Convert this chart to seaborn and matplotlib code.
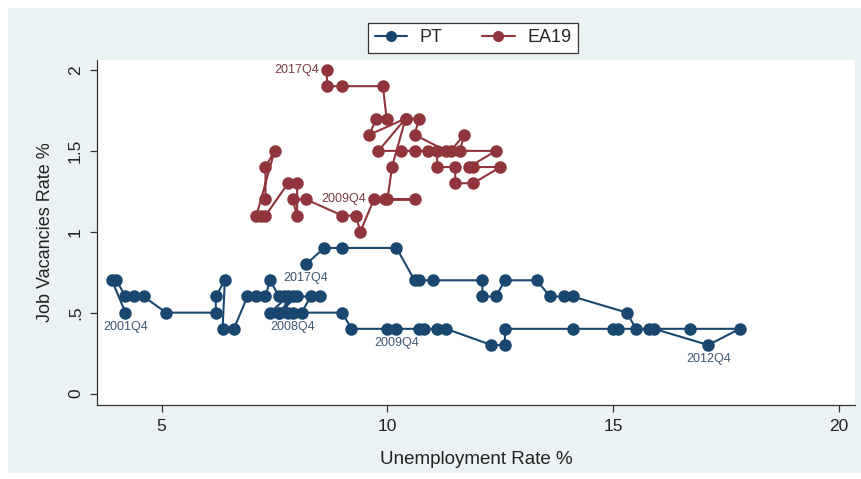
import matplotlib
matplotlib.use("Agg")
import matplotlib.pyplot as plt
from matplotlib.lines import Line2D
from matplotlib.patches import Rectangle
import pandas as pd
import seaborn as sns

# Portugal, quarterly from 2001Q4
PT_START = "2001Q4"
PT_UNEMP = [4.2, 3.9, 4.0, 4.2, 4.4, 4.6, 5.1, 6.2, 6.2, 6.4, 6.35, 6.6, 6.9,
            7.1, 7.3, 7.4, 7.6, 7.8, 7.4, 7.6, 7.9, 7.7, 7.8, 8.1, 8.3, 8.5,
            8.0, 7.6, 7.9, 9.0, 9.2, 10.0, 10.2, 10.7, 10.8, 11.1, 11.3, 12.3,
            12.6, 12.6, 14.1, 15.0, 15.1, 15.9, 17.1, 17.8, 16.7, 15.8, 15.5,
            15.3, 14.1, 13.9, 13.6, 13.3, 12.6, 12.4, 12.1, 12.1, 11.0, 10.7,
            10.6, 10.2, 9.0, 8.6, 8.2]
PT_VAC = [0.5, 0.7, 0.7, 0.6, 0.6, 0.6, 0.5, 0.5, 0.6, 0.7, 0.4, 0.4, 0.6,
          0.6, 0.6, 0.7, 0.6, 0.6, 0.5, 0.5, 0.6, 0.6, 0.5, 0.5, 0.6, 0.6,
          0.6, 0.5, 0.5, 0.5, 0.4, 0.4, 0.4, 0.4, 0.4, 0.4, 0.4, 0.3,
          0.3, 0.4, 0.4, 0.4, 0.4, 0.4, 0.3, 0.4, 0.4, 0.4, 0.4,
          0.5, 0.6, 0.6, 0.6, 0.7, 0.7, 0.6, 0.6, 0.7, 0.7, 0.7,
          0.7, 0.9, 0.9, 0.9, 0.8]

# Euro area 19, quarterly from 2006Q2
EA_START = "2006Q2"
EA_UNEMP = [7.3, 7.3, 7.5, 7.1, 7.2, 7.3, 7.8, 8.0, 8.0, 7.9, 8.2, 9.0, 9.3,
            9.4, 9.7, 9.95, 10.6, 10.0, 10.1, 10.4, 9.8, 10.3, 10.6, 10.9,
            11.1, 11.1, 11.5, 11.5, 11.9, 12.5, 11.9, 11.8, 12.4, 11.4, 11.7,
            11.6, 11.3, 10.6, 10.7, 10.4, 9.6, 9.75, 9.98, 9.9, 9.0, 8.66, 8.66]
EA_VAC = [1.2, 1.4, 1.5, 1.1, 1.1, 1.1, 1.3, 1.3, 1.1, 1.2, 1.2, 1.1, 1.1,
          1.0, 1.2, 1.2, 1.2, 1.2, 1.4, 1.7, 1.5, 1.5, 1.5, 1.5,
          1.5, 1.4, 1.4, 1.3, 1.3, 1.4, 1.4, 1.4, 1.5, 1.5, 1.6,
          1.5, 1.5, 1.6, 1.7, 1.7, 1.6, 1.7, 1.7, 1.9, 1.9, 1.9, 2.0]

PT_MARKED = ["2001Q4", "2008Q4", "2009Q4", "2012Q4", "2017Q4"]
EA_MARKED = ["2009Q4", "2017Q4"]

X_TICKS = [5, 10, 15, 20]
Y_TICKS = [0, 0.5, 1, 1.5, 2]
Y_TICK_LABELS = ["0", ".5", "1", "1.5", "2"]

PT_COLOR = "#1a476f"
EA_COLOR = "#90353b"


def build_frame():
    pt = pd.DataFrame({
        "unemp": PT_UNEMP,
        "vac": PT_VAC,
        "quarter": pd.period_range(PT_START, periods=len(PT_UNEMP), freq="Q").astype(str),
        "series": "PT",
    })
    ea = pd.DataFrame({
        "unemp": EA_UNEMP,
        "vac": EA_VAC,
        "quarter": pd.period_range(EA_START, periods=len(EA_UNEMP), freq="Q").astype(str),
        "series": "EA19",
    })
    return pd.concat([pt, ea], ignore_index=True)


def main():
    sns.set_style("ticks")
    plt.rcParams["font.family"] = ["Liberation Sans", "DejaVu Sans"]

    df = build_frame()

    fig = plt.figure(figsize=(8.61, 4.79), dpi=100, facecolor="white")
    # Stata-like graph region behind the axes
    fig.patches.append(Rectangle((8 / 861, 6 / 479), 1 - 8 / 861, 1 - 14 / 479,
                                 transform=fig.transFigure, facecolor="#eaf2f3",
                                 edgecolor="none", zorder=-10))
    ax = fig.add_axes([97 / 861, 1 - 405 / 479, (855 - 97) / 861, (405 - 60) / 479])
    ax.set_facecolor("white")
    ax.set_zorder(1)

    sns.lineplot(data=df, x="unemp", y="vac", hue="series",
                 palette={"PT": PT_COLOR, "EA19": EA_COLOR},
                 sort=False, estimator=None, marker="o", markersize=9,
                 markeredgewidth=0, linewidth=1.5, legend=False, ax=ax)

    for _, row in df.iterrows():
        if row["series"] == "PT" and row["quarter"] in PT_MARKED:
            ax.annotate(row["quarter"], (row["unemp"], row["vac"]),
                        textcoords="offset points", xytext=(0, -6),
                        ha="center", va="top", fontsize=9, color="#3f5670")
        elif row["series"] == "EA19" and row["quarter"] in EA_MARKED:
            ax.annotate(row["quarter"], (row["unemp"], row["vac"]),
                        textcoords="offset points", xytext=(-6, 0),
                        ha="right", va="center", fontsize=9, color="#7a3d42")

    ax.set_xlim(3.57, 20.35)
    ax.set_ylim(-0.071, 2.062)
    ax.set_xticks(X_TICKS)
    ax.set_yticks(Y_TICKS)
    ax.set_yticklabels(Y_TICK_LABELS, rotation=90, va="center")
    ax.tick_params(axis="both", direction="out", length=5, width=0.9,
                   color="#333333", labelsize=12.5, labelcolor="#222222", pad=5)
    for side in ["top", "right"]:
        ax.spines[side].set_visible(False)
    for side in ["left", "bottom"]:
        ax.spines[side].set_color("#333333")
        ax.spines[side].set_linewidth(0.9)

    ax.set_xlabel("Unemployment Rate %", fontsize=13.5, color="#222222", labelpad=12)
    ax.set_ylabel("Job Vacancies Rate %", fontsize=13, color="#222222", labelpad=10)

    handles = [
        Line2D([], [], color=PT_COLOR, marker="o", markersize=8, markeredgewidth=0, linewidth=1.5),
        Line2D([], [], color=EA_COLOR, marker="o", markersize=8, markeredgewidth=0, linewidth=1.5),
    ]
    leg = fig.legend(handles, ["PT", "EA19"], loc="center",
                     bbox_to_anchor=(473 / 861, 1 - 38 / 479), ncol=2,
                     frameon=True, fancybox=False, framealpha=1, fontsize=13,
                     handlelength=1.8, columnspacing=2.2, handletextpad=0.7,
                     borderpad=0.35)
    leg.get_frame().set_edgecolor("#333333")
    leg.get_frame().set_linewidth(0.9)
    leg.get_frame().set_facecolor("white")

    fig.savefig("out.png", dpi=100, facecolor=fig.get_facecolor())
    plt.close(fig)


if __name__ == "__main__":
    main()
